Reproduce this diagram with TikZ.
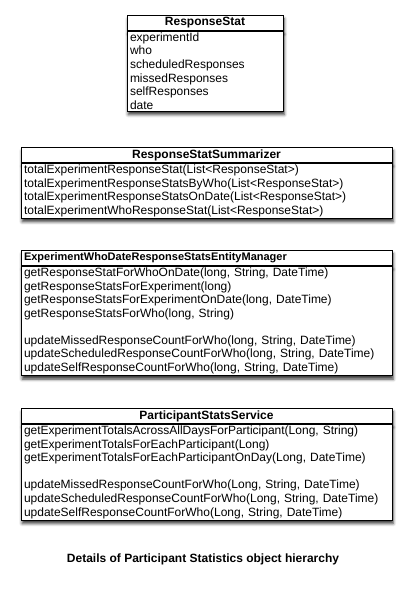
\documentclass[tikz,border=0pt]{standalone}
\usepackage{fontspec}
\setmainfont{Liberation Sans}
\usetikzlibrary{positioning, shadows.blur}

\begin{document}
\begin{tikzpicture}[x=1pt, y=-1pt,
    font=\fontsize{12}{13.6}\selectfont,
    boxshadow/.style={blur shadow={shadow xshift=1.2pt, shadow yshift=-3.5pt,
        shadow blur radius=3pt, shadow opacity=80}},
    classhead/.style={draw, line width=0.8pt, fill=white, anchor=north,
        font=\fontsize{12}{13.6}\selectfont\bfseries,
        inner xsep=3pt, inner ysep=0pt, minimum height=15pt, boxshadow},
    classbody/.style={draw, line width=0.8pt, fill=white, align=left,
        inner xsep=3pt, inner ysep=1.5pt, boxshadow}]
    \path[use as bounding box] (0,0) rectangle (412,590);

    \begin{scope}
      \node[classhead, minimum width=156pt] (stat_head) at (205,15) {ResponseStat};
      \node[classbody, text width=150pt, below=0pt of stat_head] (stat_body) {%
        experimentId\\
        who\\
        scheduledResponses\\
        missedResponses\\
        selfResponses\\
        date%
      };
    \end{scope}

    \begin{scope}
      \node[classhead, minimum width=371pt] (summ_head) at (206.5,147) {ResponseStatSummarizer};
      \node[classbody, text width=365pt, below=0pt of summ_head] (summ_body) {%
        totalExperimentResponseStat(List<ResponseStat>)\\
        totalExperimentResponseStatsByWho(List<ResponseStat>)\\
        totalExperimentResponseStatsOnDate(List<ResponseStat>)\\
        totalExperimentWhoResponseStat(List<ResponseStat>)%
      };
    \end{scope}

    \begin{scope}
      \node[classhead, text width=365pt, align=left,
        font=\fontsize{11}{13}\selectfont\bfseries] (mgr_head) at (206.5,250)
        {ExperimentWhoDateResponseStatsEntityManager};
      \node[classbody, text width=365pt, below=0pt of mgr_head] (mgr_body) {%
        getResponseStatForWhoOnDate(long, String, DateTime)\\
        getResponseStatsForExperiment(long)\\
        getResponseStatsForExperimentOnDate(long, DateTime)\\
        getResponseStatsForWho(long, String)\\[13.6pt]
        updateMissedResponseCountForWho(long, String, DateTime)\\
        updateScheduledResponseCountForWho(long, String, DateTime)\\
        updateSelfResponseCountForWho(long, String, DateTime)%
      };
    \end{scope}

    \begin{scope}
      \node[classhead, minimum width=371pt] (svc_head) at (206.5,408) {ParticipantStatsService};
      \node[classbody, text width=365pt, below=0pt of svc_head] (svc_body) {%
        getExperimentTotalsAcrossAllDaysForParticipant(Long, String)\\
        getExperimentTotalsForEachParticipant(Long)\\
        getExperimentTotalsForEachParticipantOnDay(Long, DateTime)\\[13.6pt]
        updateMissedResponseCountForWho(Long, String, DateTime)\\
        updateScheduledResponseCountForWho(Long, String, DateTime)\\
        updateSelfResponseCountForWho(Long, String, DateTime)%
      };
    \end{scope}

    \node[font=\fontsize{12}{13.6}\selectfont\bfseries] (caption) at (203,559)
      {Details of Participant Statistics object hierarchy};

\end{tikzpicture}
\end{document}
